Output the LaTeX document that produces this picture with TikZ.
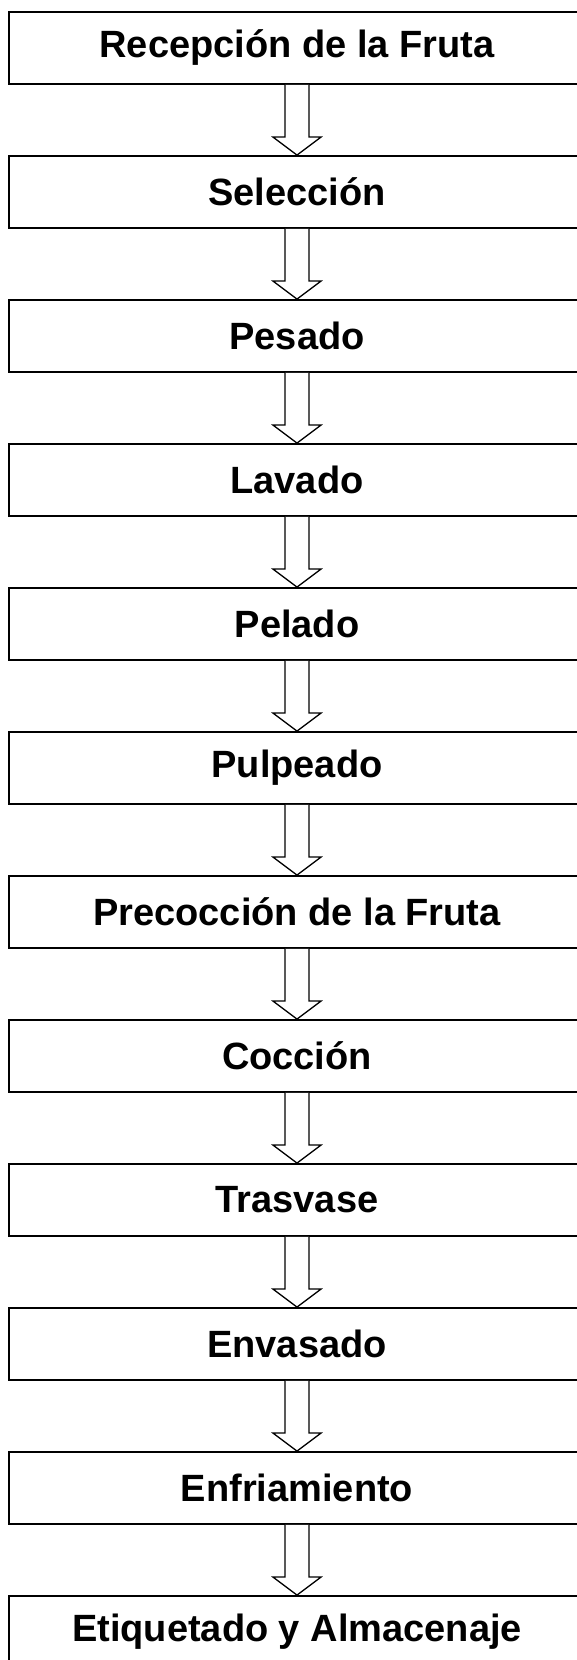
\documentclass[tikz,border=0pt]{standalone}
\usepackage{fontspec}
\setmainfont{Liberation Sans}
\usetikzlibrary{calc}
\tikzset{
  stepbox/.style={draw=black, line width=1.8pt, rectangle, minimum width=576pt, minimum height=72pt, inner sep=0pt, font=\fontsize{38}{42}\selectfont\bfseries},
  flowarrow/.style={draw=black, line width=1.3pt, fill=white, line join=miter}
}
\newcommand{\hollowarrow}[2]{%
  \draw[flowarrow] ($(#1.south)+(-12pt,0)$) -- ($(#2.north)+(-12pt,18pt)$) -- ($(#2.north)+(-24pt,18pt)$) -- (#2.north) -- ($(#2.north)+(24pt,18pt)$) -- ($(#2.north)+(12pt,18pt)$) -- ($(#1.south)+(12pt,0)$);%
}
\begin{document}
\begin{tikzpicture}[x=1pt,y=1pt]
\useasboundingbox (0,0) rectangle (576,1660);
\fill[white] (0,0) rectangle (576,1660);
\node[stepbox] (s1)  at (297,1612) {Recepción de la Fruta};
\node[stepbox] (s2)  at (297,1468) {Selección};
\node[stepbox] (s3)  at (297,1324) {Pesado};
\node[stepbox] (s4)  at (297,1180) {Lavado};
\node[stepbox] (s5)  at (297,1036) {Pelado};
\node[stepbox] (s6)  at (297,892)  {Pulpeado};
\node[stepbox] (s7)  at (297,748)  {Precocción de la Fruta};
\node[stepbox] (s8)  at (297,604)  {Cocción};
\node[stepbox] (s9)  at (297,460)  {Trasvase};
\node[stepbox] (s10) at (297,316)  {Envasado};
\node[stepbox] (s11) at (297,172)  {Enfriamiento};
\node[stepbox] (s12) at (297,28)   {Etiquetado y Almacenaje};
\hollowarrow{s1}{s2}
\hollowarrow{s2}{s3}
\hollowarrow{s3}{s4}
\hollowarrow{s4}{s5}
\hollowarrow{s5}{s6}
\hollowarrow{s6}{s7}
\hollowarrow{s7}{s8}
\hollowarrow{s8}{s9}
\hollowarrow{s9}{s10}
\hollowarrow{s10}{s11}
\hollowarrow{s11}{s12}
\end{tikzpicture}
\end{document}
